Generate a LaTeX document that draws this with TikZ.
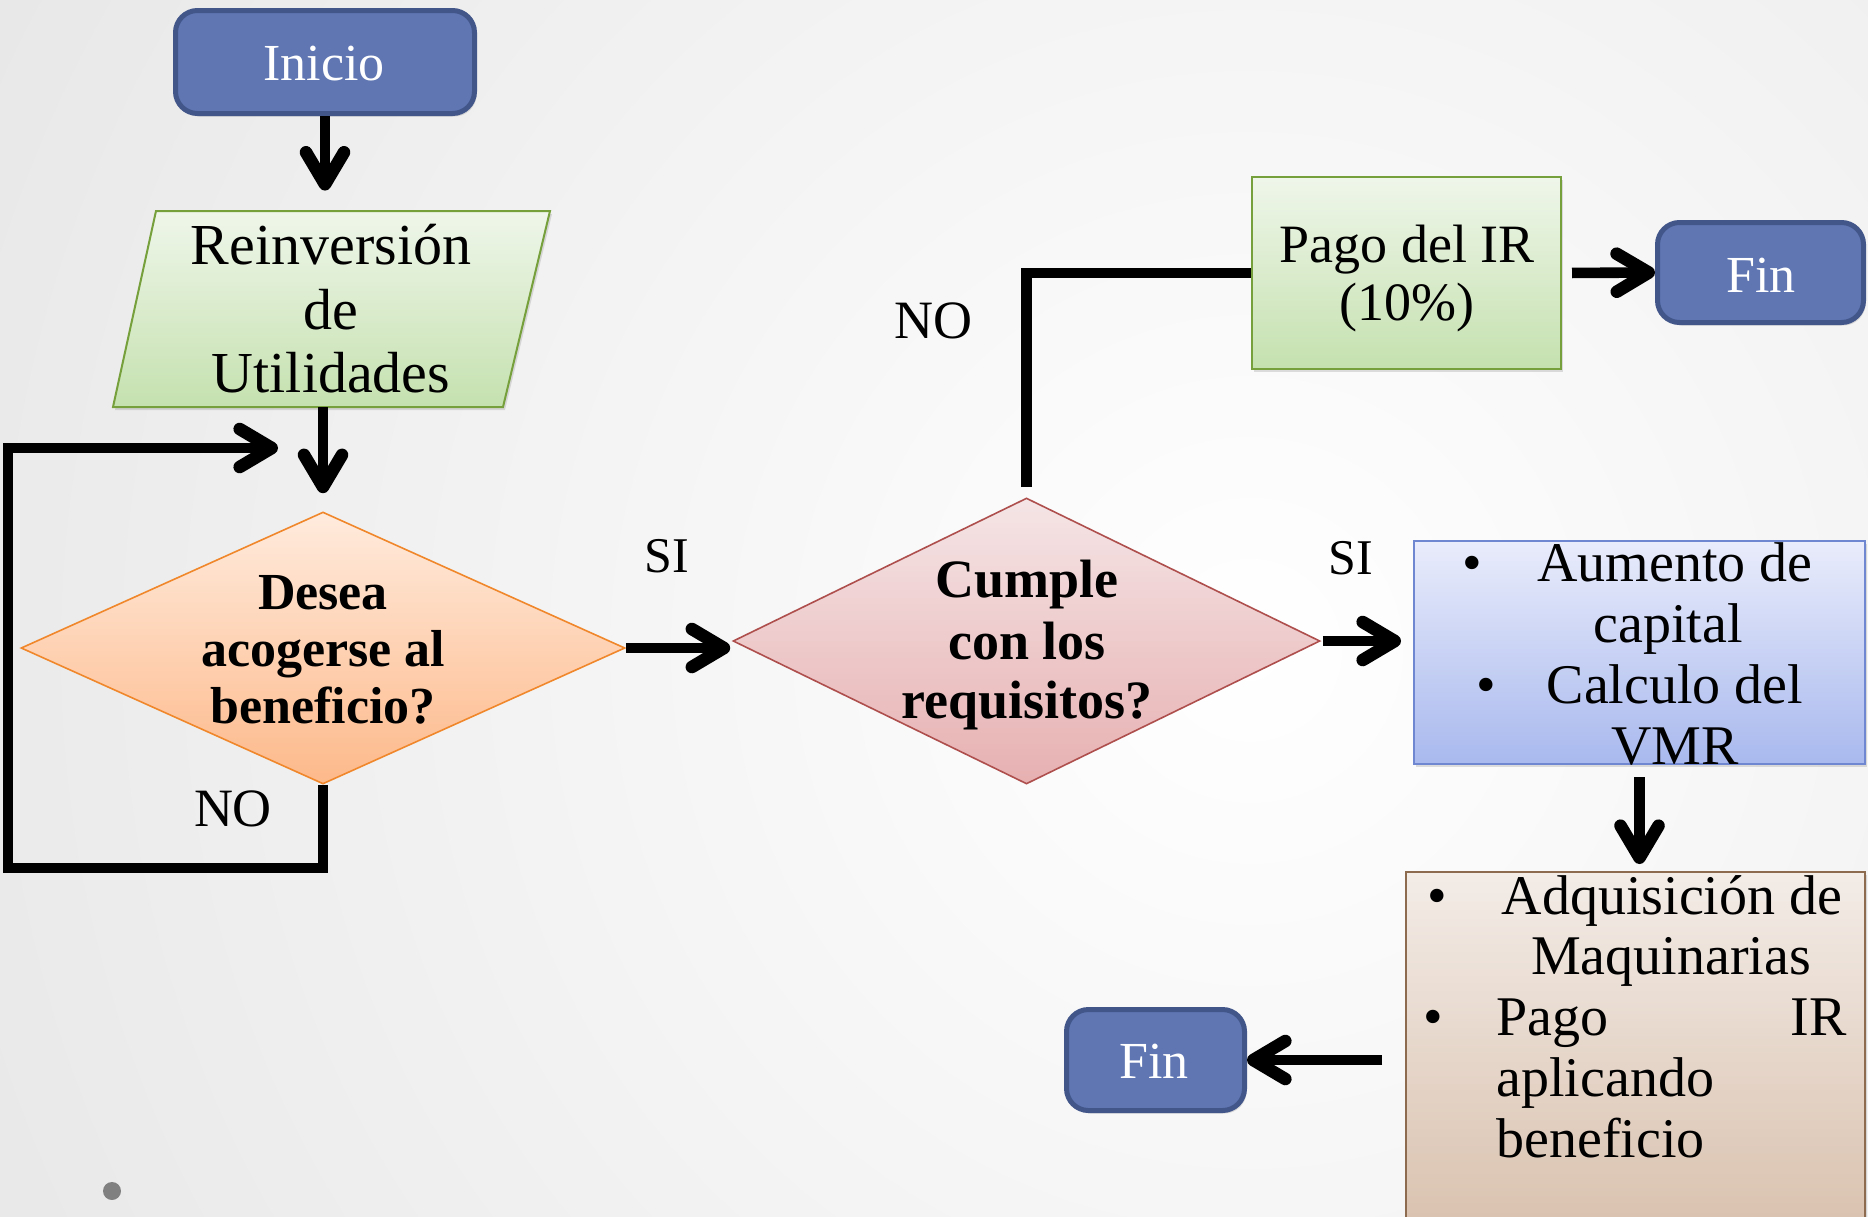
\documentclass[tikz,border=0pt]{standalone}
\usepackage{fontspec}
\setmainfont{Liberation Serif}
\usetikzlibrary{arrows.meta,shapes.geometric,shadows}
\definecolor{termfill}{HTML}{5F76B3}
\definecolor{termdraw}{HTML}{42568A}
\definecolor{greentop}{HTML}{EFF6EA}
\definecolor{greenbot}{HTML}{C5E1AF}
\definecolor{greendraw}{HTML}{76A03B}
\definecolor{orangetop}{HTML}{FFEBDD}
\definecolor{orangebot}{HTML}{FDB98A}
\definecolor{orangedraw}{HTML}{F0872B}
\definecolor{pinktop}{HTML}{F5E5E6}
\definecolor{pinkbot}{HTML}{E7B0B1}
\definecolor{pinkdraw}{HTML}{AE4F4D}
\definecolor{bluetop}{HTML}{E9ECFB}
\definecolor{bluebot}{HTML}{A9B9EE}
\definecolor{bluedraw}{HTML}{6F87D0}
\definecolor{browntop}{HTML}{F3ECE7}
\definecolor{brownbot}{HTML}{D8BFAB}
\definecolor{browndraw}{HTML}{8D6B4F}
\tikzset{
  shadowed/.style={drop shadow={shadow xshift=1pt, shadow yshift=-1.5pt, opacity=0.25}},
  conn/.style={line width=5.3pt, draw=black},
  arr/.style={conn, -{Straight Barb[round,length=16pt,width=19pt,line width=6.3pt]}},
  term/.style={rectangle, rounded corners=11pt, fill=termfill, draw=termdraw, line width=2.5pt, inner sep=0pt, shadowed},
  greenshape/.style={top color=greentop, bottom color=greenbot, draw=greendraw, line width=1pt},
  boxbase/.style={rectangle, inner sep=0pt, line width=1pt, shadowed},
  diabase/.style={diamond, inner sep=0pt, line width=0.8pt},
  txt/.style={anchor=base, inner sep=0pt},
  wtxt/.style={txt, text=white, font=\fontsize{26pt}{30pt}\selectfont},
  reinvtxt/.style={txt, font=\fontsize{29pt}{32pt}\selectfont},
  q1txt/.style={txt, font=\fontsize{26pt}{30pt}\selectfont\bfseries},
  q2txt/.style={txt, font=\fontsize{27pt}{30pt}\selectfont\bfseries},
  pagotxt/.style={txt, font=\fontsize{27pt}{30pt}\selectfont},
  sitxt/.style={txt, font=\fontsize{25pt}{30pt}\selectfont},
  notxt/.style={txt, font=\fontsize{27pt}{30pt}\selectfont},
  listtxt/.style={txt, font=\fontsize{28pt}{30pt}\selectfont},
}
\begin{document}
\begin{tikzpicture}[x=0.5pt,y=-0.5pt]
\clip (0,0) rectangle (1868,1216);
\shade[inner color=white, outer color=black!18] (1250,650) circle [radius=1400pt];
\fill[black!50] (112,1191) circle [radius=4.5pt];

% shapes
\node[term, minimum width=149.5pt, minimum height=51.5pt] (inicio) at (325,62) {};
\path[greenshape, shadowed] (156,211) -- (550,211) -- (503,407) -- (113,407) -- cycle;
\node[inner sep=0pt, minimum width=197pt, minimum height=98pt] (reinv) at (323,309) {};
\node[diabase, top color=orangetop, bottom color=orangebot, draw=orangedraw,
      minimum width=302pt, minimum height=136pt] (d1) at (323,648) {};
\node[diabase, top color=pinktop, bottom color=pinkbot, draw=pinkdraw,
      minimum width=293.5pt, minimum height=143pt] (d2) at (1026.5,641) {};
\node[boxbase, top color=greentop, bottom color=greenbot, draw=greendraw,
      minimum width=154.5pt, minimum height=96pt] (pago) at (1406.5,273) {};
\node[term, minimum width=103pt, minimum height=50pt] (fin1) at (1760.5,272.5) {};
\node[boxbase, top color=bluetop, bottom color=bluebot, draw=bluedraw,
      minimum width=225.5pt, minimum height=111.5pt] (aum) at (1639.5,652.5) {};
\node[boxbase, top color=browntop, bottom color=brownbot, draw=browndraw,
      minimum width=229.5pt, minimum height=189pt] (adq) at (1635.5,1061) {};
\node[term, minimum width=89pt, minimum height=50.5pt] (fin2) at (1155.5,1060) {};
\coordinate (lbl) at (8,868);
\coordinate (lend) at (278,448);

% texts
\node[wtxt] at (324,80) {Inicio};
\node[reinvtxt] at (331,264) {Reinversión};
\node[reinvtxt] at (331,329) {de};
\node[reinvtxt] at (331,392) {Utilidades};
\node[q1txt] at (323,609) {Desea};
\node[q1txt] at (323,666) {acogerse al};
\node[q1txt] at (323,723) {beneficio?};
\node[q2txt] at (1027,597) {Cumple};
\node[q2txt] at (1027,659) {con los};
\node[q2txt] at (1027,718) {requisitos?};
\node[pagotxt] at (1407,262) {Pago del IR};
\node[pagotxt] at (1407,320) {(10\%)};
\node[wtxt] at (1761,292) {Fin};
\node[wtxt] at (1154,1078) {Fin};
\node[sitxt] at (667,572) {SI};
\node[sitxt] at (1351,574) {SI};
\node[notxt] at (933,338) {NO};
\node[notxt] at (233,826) {NO};
\node[listtxt] at (1472,581) {\textbullet};
\node[listtxt] at (1675,581) {Aumento de};
\node[listtxt] at (1668,642) {capital};
\node[listtxt] at (1486,703) {\textbullet};
\node[listtxt] at (1675,703) {Calculo del};
\node[listtxt] at (1675,764) {VMR};
\node[listtxt] at (1437,914) {\textbullet};
\node[listtxt] at (1672,914) {Adquisición de};
\node[listtxt] at (1671,974) {Maquinarias};
\node[listtxt] at (1433,1035) {\textbullet};
\node[listtxt, anchor=base west] at (1496,1035) {Pago};
\node[listtxt, anchor=base east] at (1847,1035) {IR};
\node[listtxt, anchor=base west] at (1496,1096) {aplicando};
\node[listtxt, anchor=base west] at (1496,1157) {beneficio};

% connectors
\draw[arr, shorten >=10pt] (inicio.south) -- (inicio.south |- reinv.north);
\draw[arr, shorten >=9pt] (reinv.south) -- (d1.north);
\draw[arr] (d1.south) |- (lbl) |- (lend);
\draw[arr, shorten >=1pt] (d1.east) -- (d1.east -| d2.west);
\draw[conn, shorten <=5pt] (d2.north) |- (pago.west);
\draw[arr, shorten <=1pt, shorten >=6pt] (d2.east) -- (d2.east -| aum.west);
\draw[arr, shorten <=5pt] (pago.east) -- (fin1.west);
\draw[arr, shorten <=6pt, shorten >=3.5pt] (aum.south) -- (aum.south |- adq.north);
\draw[arr, shorten <=11.5pt] (adq.west |- fin2.east) -- (fin2.east);
\end{tikzpicture}
\end{document}
